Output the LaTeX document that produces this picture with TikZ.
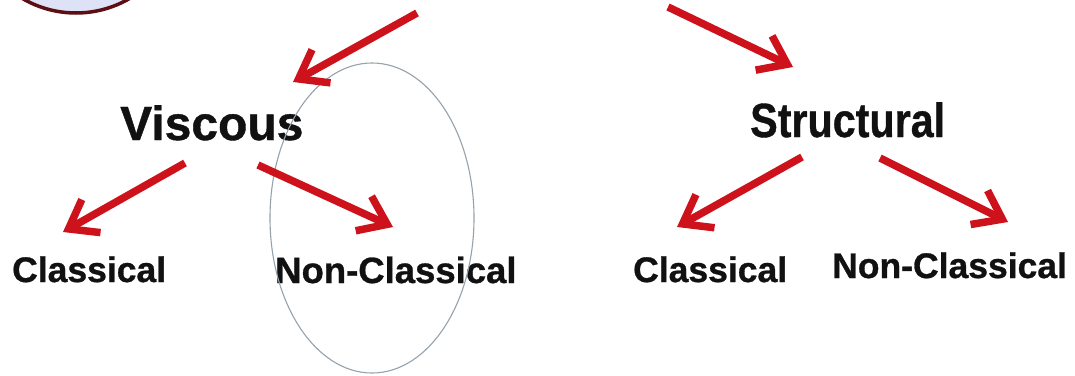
\documentclass[tikz,border=0pt]{standalone}
\usepackage{fontspec}
\usepackage{graphicx}
\setmainfont{Liberation Sans}[BoldFeatures={FakeBold=0.8}]
\usetikzlibrary{arrows.meta,shapes.geometric}

\definecolor{arrowred}{RGB}{206,18,28}
\definecolor{ringdark}{RGB}{92,14,18}
\definecolor{ringfill}{RGB}{222,226,246}
\definecolor{loopgray}{RGB}{150,162,172}
\definecolor{inkblack}{RGB}{17,17,17}

\tikzset{
  redarrow/.style={draw=arrowred, line width=7.5pt,
    -{Straight Barb[length=26pt,width=38pt]}},
  bigword/.style={anchor=base west, inner sep=0pt, text=inkblack,
    font=\bfseries\fontsize{48}{48}\selectfont},
  smallword/.style={anchor=base west, inner sep=0pt, text=inkblack,
    font=\bfseries\fontsize{35.5}{36}\selectfont},
}

\begin{document}
\begin{tikzpicture}[x=1pt,y=-1pt]
  \clip (0,0) rectangle (1075,375);
  \fill[white] (0,0) rectangle (1075,375);

  % badge cut off by the upper edge
  \node[circle, draw=ringdark, fill=ringfill, line width=3.5pt,
        minimum size=212pt, inner sep=0pt] (badge) at (76,-93) {};

  % headings
  \node[bigword] (visc) at (120,140) {Viscous};
  \node[bigword] (struc) at (750,137) {\scalebox{0.86}[1]{Structural}};

  % leaves
  \node[smallword] (vcl) at (12,282) {Classical};
  \node[smallword, font=\bfseries\fontsize{36.5}{37}\selectfont] (vnc) at (275,283) {Non-Classical};
  \node[smallword] (scl) at (633,282) {Classical};
  \node[smallword] (snc) at (832,278) {Non-Classical};

  % hand-drawn loop around the non-classical branch
  \node[ellipse, draw=loopgray, line width=1.1pt, minimum width=204pt,
        minimum height=310pt, inner sep=0pt] (loop) at (372,218) {};

  % arrow ends
  \coordinate (topl) at (417,13);
  \coordinate (topr) at (668,7);
  \coordinate (vtip) at (293,82);
  \coordinate (stip) at (793,67);
  \coordinate (vl0) at (185,163);  \coordinate (vl1) at (63,232);
  \coordinate (vr0) at (258,165);  \coordinate (vr1) at (393,227);
  \coordinate (sl0) at (802,157);  \coordinate (sl1) at (677,227);
  \coordinate (sr0) at (880,158);  \coordinate (sr1) at (1008,222);

  \draw[redarrow] (topl) -- (vtip);
  \draw[redarrow] (topr) -- (stip);
  \draw[redarrow] (vl0) -- (vl1);
  \draw[redarrow] (vr0) -- (vr1);
  \draw[redarrow] (sl0) -- (sl1);
  \draw[redarrow] (sr0) -- (sr1);
\end{tikzpicture}
\end{document}
